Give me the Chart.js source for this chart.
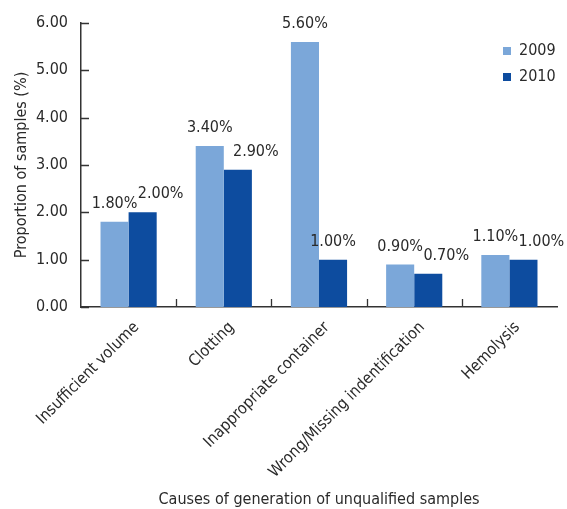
<!DOCTYPE html>
<html lang="en">
<head>
    <meta charset="UTF-8">
    <title>Unqualified samples</title>
    <style>
        body { margin: 0; padding: 0; background: #ffffff; }
        #wrap { width: 567px; height: 509px; position: relative; }
    </style>
    <script src="https://cdn.jsdelivr.net/npm/chart.js"></script>
</head>
<body>
    <div id="wrap">
        <canvas id="chart"></canvas>
    </div>

    <script>
        const categories = ['Insufficient volume', 'Clotting', 'Inappropriate container', 'Wrong/Missing indentification', 'Hemolysis'];
        const seriesNames = ['2009', '2010'];
        const values2009 = [1.8, 3.4, 5.6, 0.9, 1.1];
        const values2010 = [2.0, 2.9, 1.0, 0.7, 1.0];
        const yTicks = [0, 1, 2, 3, 4, 5, 6];

        const FONT = "'DejaVu Sans Condensed', 'Liberation Sans Narrow', sans-serif";
        const TEXT = '#2a2a2a';
        const AXIS = '#333333';
        const colors = ['#7ba7d9', '#0d4c9f'];

        // inward tick marks on both axes
        const tickMarks = {
            id: 'tickMarks',
            afterDraw(chart) {
                const { ctx, scales: { x, y }, chartArea } = chart;
                ctx.save();
                ctx.strokeStyle = AXIS;
                ctx.lineWidth = 1.3;
                ctx.beginPath();
                yTicks.forEach(v => {
                    const py = Math.round(y.getPixelForValue(v)) + 0.5;
                    ctx.moveTo(chartArea.left, py);
                    ctx.lineTo(chartArea.left + 8, py);
                });
                for (let i = 1; i < categories.length; i++) {
                    const px = Math.round((x.getPixelForValue(i - 1) + x.getPixelForValue(i)) / 2) + 0.5;
                    ctx.moveTo(px, chartArea.bottom);
                    ctx.lineTo(px, chartArea.bottom - 8);
                }
                ctx.stroke();
                ctx.restore();
            }
        };

        // value labels above bars, second series nudged right when it collides
        const valueLabels = {
            id: 'valueLabels',
            afterDatasetsDraw(chart) {
                const { ctx } = chart;
                const off = 10, h = 14;
                ctx.save();
                ctx.font = '16px ' + FONT;
                ctx.fillStyle = TEXT;
                ctx.textAlign = 'center';
                ctx.textBaseline = 'bottom';
                const m0 = chart.getDatasetMeta(0).data;
                const m1 = chart.getDatasetMeta(1).data;
                categories.forEach((c, i) => {
                    const t0 = values2009[i].toFixed(2) + '%';
                    const t1 = values2010[i].toFixed(2) + '%';
                    const w0 = ctx.measureText(t0).width;
                    const w1 = ctx.measureText(t1).width;
                    const b0 = m0[i].y - off;
                    const b1 = m1[i].y - off;
                    let x1 = m1[i].x;
                    if (Math.abs(b1 - b0) < h + 12 && x1 - w1 / 2 < m0[i].x + w0 / 2) {
                        x1 += 18;
                    }
                    ctx.fillText(t0, m0[i].x, b0);
                    ctx.fillText(t1, x1, b1);
                });
                ctx.restore();
            }
        };

        // legend in the top right corner of the plot
        const cornerLegend = {
            id: 'cornerLegend',
            afterDraw(chart) {
                const { ctx, chartArea } = chart;
                ctx.save();
                ctx.font = '16px ' + FONT;
                ctx.textBaseline = 'middle';
                ctx.textAlign = 'left';
                chart.data.datasets.forEach((ds, i) => {
                    const cy = chartArea.top + 28 + i * 26;
                    ctx.fillStyle = ds.backgroundColor;
                    ctx.fillRect(chartArea.right - 54, cy - 4, 8, 8);
                    ctx.fillStyle = TEXT;
                    ctx.fillText(ds.label, chartArea.right - 38, cy);
                });
                ctx.restore();
            }
        };

        new Chart(document.getElementById('chart'), {
            type: 'bar',
            data: {
                labels: categories,
                datasets: [
                    { label: seriesNames[0], data: values2009, backgroundColor: colors[0] },
                    { label: seriesNames[1], data: values2010, backgroundColor: colors[1] }
                ]
            },
            options: {
                responsive: true,
                maintainAspectRatio: false,
                animation: false,
                layout: { padding: { left: 0, right: 10, top: 23, bottom: 0 } },
                datasets: { bar: { barPercentage: 1, categoryPercentage: 0.59 } },
                scales: {
                    x: {
                        grid: { display: false, drawTicks: false },
                        border: { display: true, color: AXIS, width: 1.5 },
                        ticks: {
                            color: TEXT,
                            font: { family: FONT, size: 16 },
                            minRotation: 45,
                            maxRotation: 45,
                            autoSkip: false,
                            padding: 11,
                            labelOffset: 8
                        },
                        title: {
                            display: true,
                            text: 'Causes of generation of unqualified samples',
                            color: TEXT,
                            font: { family: FONT, size: 16 },
                            padding: { top: 0, bottom: 0 }
                        },
                        afterFit(s) { s.height = 202; }
                    },
                    y: {
                        min: 0,
                        max: 6,
                        grid: { display: false, drawTicks: false },
                        border: { display: true, color: AXIS, width: 1.5 },
                        ticks: {
                            stepSize: 1,
                            color: TEXT,
                            font: { family: FONT, size: 16 },
                            padding: 13,
                            callback: v => v.toFixed(2)
                        },
                        title: {
                            display: true,
                            text: 'Proportion of samples (%)',
                            color: TEXT,
                            font: { family: FONT, size: 16 },
                            padding: { top: 12, bottom: 0 }
                        },
                        afterFit(s) { s.width = 81; }
                    }
                },
                plugins: {
                    legend: { display: false },
                    tooltip: { enabled: false }
                }
            },
            plugins: [tickMarks, valueLabels, cornerLegend]
        });
    </script>
</body>
</html>
